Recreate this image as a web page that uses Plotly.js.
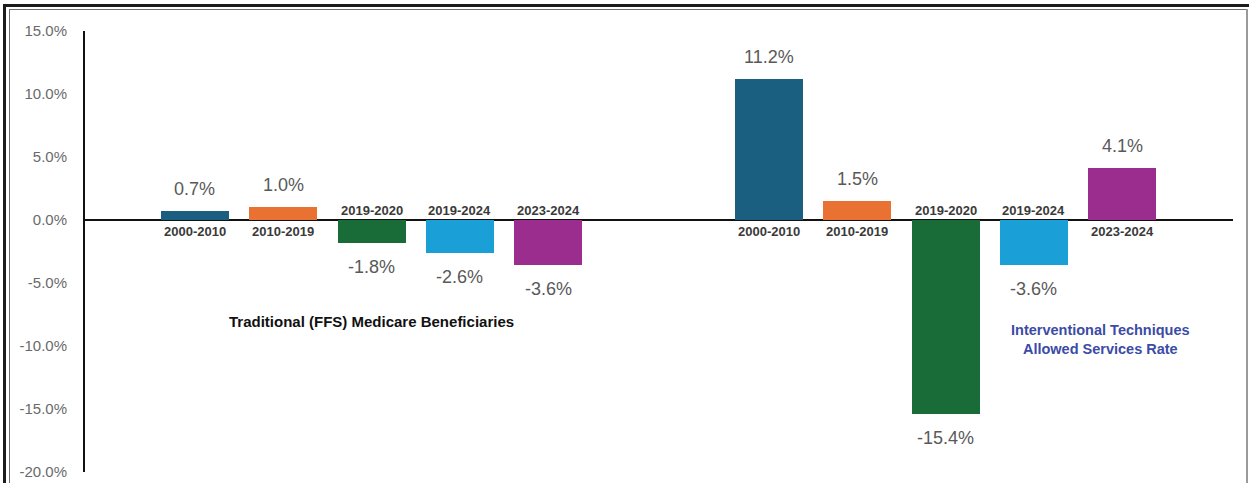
<!DOCTYPE html>
<html>
<head>
<meta charset="utf-8">
<script src="https://cdn.plot.ly/plotly-3.0.1.min.js"></script>
<style>
  html, body { margin: 0; padding: 0; background: #fff; }
  #wrap { position: relative; width: 1249px; height: 483px; overflow: hidden; }
  #chart { position: absolute; left: 0; top: 0; width: 1249px; height: 483px; }
  .fr { position: absolute; pointer-events: none; z-index: 5; }
</style>
</head>
<body>
<div id="wrap">
  <div id="chart"></div>
  <div class="fr" style="left:3px;top:4px;width:1246px;height:3px;background:#1c1c1c;"></div>
  <div class="fr" style="left:3px;top:4px;width:3px;height:479px;background:#1c1c1c;"></div>
  <div class="fr" style="left:9px;top:9px;width:1239px;height:1px;background:#6e6e6e;"></div>
  <div class="fr" style="left:9px;top:9px;width:1px;height:474px;background:#6e6e6e;"></div>
  <div class="fr" style="left:1246px;top:9px;width:2px;height:474px;background:#9a9a9a;"></div>
</div>
<script>
// ---- data ----
const periods = ['2000-2010', '2010-2019', '2019-2020', '2019-2024', '2023-2024'];
const periodColors = ['#1a5e80', '#e97132', '#196b37', '#1a9fd6', '#9b2d8e'];
const ffsValues = [0.7, 1.0, -1.8, -2.6, -3.6];
const itValues = [11.2, 1.5, -15.4, -3.6, 4.1];
const groupTitles = ['Traditional (FFS) Medicare Beneficiaries', 'Interventional Techniques<br>Allowed Services Rate'];
const yTicks = [15, 10, 5, 0, -5, -10, -15, -20];

// ---- layout helpers ----
const groupOffset = 6.5;   // gap between the two clusters, in bar slots
const groups = [ffsValues, itValues];

const traces = [];
const annotations = [];
groups.forEach((vals, g) => {
  const xs = periods.map((p, i) => i + g * groupOffset);
  traces.push({
    type: 'bar',
    x: xs,
    y: vals,
    width: 0.77,
    marker: { color: periodColors, line: { width: 0 } },
    hoverinfo: 'skip',
    showlegend: false
  });
  vals.forEach((v, i) => {
    const pos = v >= 0;
    // value label
    annotations.push({
      x: xs[i], y: v, xref: 'x', yref: 'y',
      text: v.toFixed(1) + '%',
      showarrow: false,
      yanchor: pos ? 'bottom' : 'top',
      yshift: pos ? 10 : -12,
      font: { family: 'Liberation Sans, Arial, sans-serif', size: 18, color: '#595959' }
    });
    // period label on the opposite side of the zero line
    annotations.push({
      x: xs[i], y: 0, xref: 'x', yref: 'y',
      text: periods[i],
      showarrow: false,
      yanchor: pos ? 'top' : 'bottom',
      yshift: pos ? -2 : 0,
      font: { family: 'Liberation Sans, Arial, sans-serif', size: 13, color: '#3a3a3a', weight: 'bold' }
    });
  });
});

annotations.push({
  x: 2, y: -8.05, xref: 'x', yref: 'y',
  text: groupTitles[0], showarrow: false,
  font: { family: 'Liberation Sans, Arial, sans-serif', size: 15, color: '#111', weight: 'bold' }
});
annotations.push({
  x: 10.25, y: -9.5, xref: 'x', yref: 'y',
  text: groupTitles[1], showarrow: false,
  font: { family: 'Liberation Sans, Arial, sans-serif', size: 14.5, color: '#3b4ba6', weight: 'bold' }
});

const layout = {
  width: 1249, height: 483,
  margin: { l: 85, r: 16, t: 31, b: 11, pad: 0 },
  paper_bgcolor: '#ffffff',
  plot_bgcolor: '#ffffff',
  bargap: 0,
  xaxis: {
    range: [-1.245, 11.755],
    showgrid: false, zeroline: false, showline: false,
    showticklabels: false, ticks: '', fixedrange: true
  },
  yaxis: {
    range: [-20, 15],
    tickvals: yTicks,
    ticktext: yTicks.map(t => t.toFixed(1) + '%'),
    showgrid: false,
    zeroline: true, zerolinecolor: '#111', zerolinewidth: 1.5,
    showline: true, linecolor: '#111', linewidth: 2,
    ticks: '', ticklabelstandoff: 13,
    tickfont: { family: 'Liberation Sans, Arial, sans-serif', size: 15, color: '#6a6a6a' },
    fixedrange: true
  },
  annotations: annotations
};

Plotly.newPlot('chart', traces, layout, { displayModeBar: false, staticPlot: true });
</script>
</body>
</html>
